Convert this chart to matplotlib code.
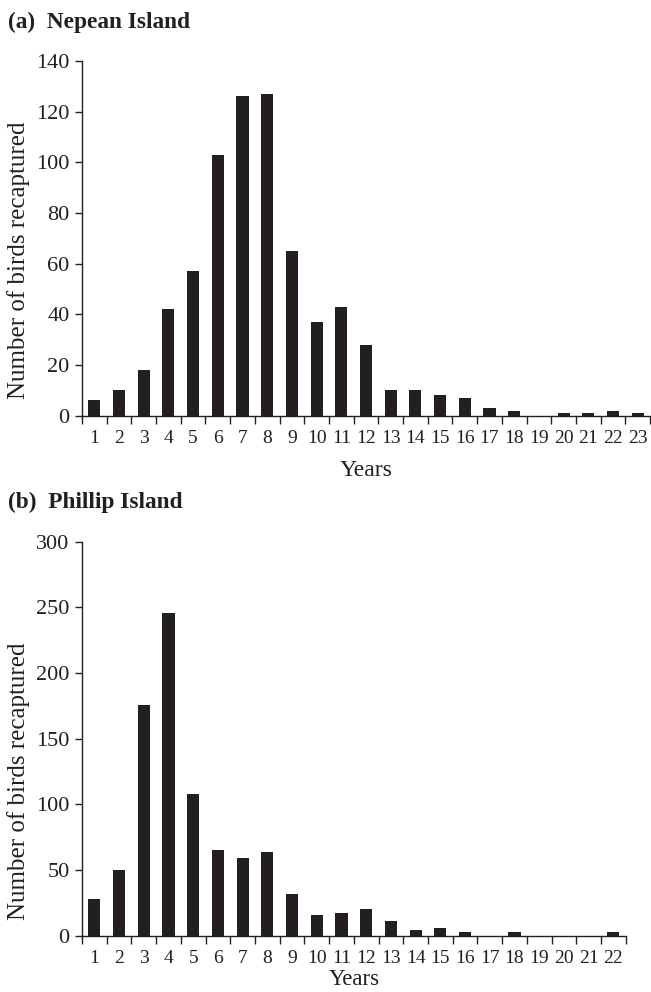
import numpy as np
import matplotlib
matplotlib.use("Agg")
import matplotlib.pyplot as plt
from matplotlib.ticker import FixedLocator, NullFormatter

# Recaptures per year since banding
years_a = list(range(1, 24))
birds_a = [6, 10, 18, 42, 57, 103, 126, 127, 65, 37, 43, 28, 10, 10, 8, 7, 3, 2, 0, 1, 1, 2, 1]

years_b = list(range(1, 23))
birds_b = [28, 50, 176, 246, 108, 65, 59, 64, 32, 16, 17, 20, 11, 4, 6, 3, 0, 3, 0, 0, 0, 3]

plt.rcParams['font.family'] = ['Liberation Serif', 'DejaVu Serif']
ink = "#231f20"

W, H = 651, 992
fig = plt.figure(figsize=(W / 100, H / 100), dpi=100)


def px_axes(left, top, right, bottom):
    return fig.add_axes([left / W, 1 - bottom / H, (right - left) / W, (bottom - top) / H])


def draw_panel(ax, years, birds, ymax, ystep):
    ax.bar(years, birds, width=0.49, color=ink)
    ax.set_xlim(0.5, len(years) + 0.5)
    ax.set_ylim(0, ymax)
    ax.set_yticks(np.arange(0, ymax + 1, ystep))
    ax.set_xticks(years)
    ax.set_xticklabels([str(y) for y in years])
    ax.xaxis.set_minor_locator(FixedLocator(np.arange(0.5, len(years) + 1, 1)))
    ax.xaxis.set_minor_formatter(NullFormatter())
    ax.tick_params(axis='x', which='major', length=0, pad=10, labelsize=14, colors=ink)
    ax.tick_params(axis='x', which='minor', length=6, width=1.0, color=ink, direction='out')
    ax.tick_params(axis='y', length=5, width=1.0, pad=4, labelsize=16, colors=ink, direction='out')
    for s in ['top', 'right']:
        ax.spines[s].set_visible(False)
    for s in ['left', 'bottom']:
        ax.spines[s].set_color(ink)
        ax.spines[s].set_linewidth(1.0)


ax1 = px_axes(82, 61, 650, 415.7)
draw_panel(ax1, years_a, birds_a, 140, 20)
ax1.set_xlabel("Years", fontsize=17, color=ink, labelpad=10)

ax2 = px_axes(82, 541.7, 625.7, 935.7)
draw_panel(ax2, years_b, birds_b, 300, 50)
ax2.set_xlabel("Years", fontsize=16.5, color=ink, labelpad=2)

fig.text(8 / W, 1 - 28 / H, "(a)  Nepean Island", fontsize=16.8, fontweight='bold',
         color=ink, ha='left', va='baseline')
fig.text(8 / W, 1 - 508 / H, "(b)  Phillip Island", fontsize=16.8, fontweight='bold',
         color=ink, ha='left', va='baseline')

fig.text(19 / W, 1 - 260 / H, "Number of birds recaptured", fontsize=18, color=ink,
         rotation=90, ha='center', va='center')
fig.text(19 / W, 1 - 781 / H, "Number of birds recaptured", fontsize=18, color=ink,
         rotation=90, ha='center', va='center')

fig.savefig("out.png", dpi=100, facecolor='white')
